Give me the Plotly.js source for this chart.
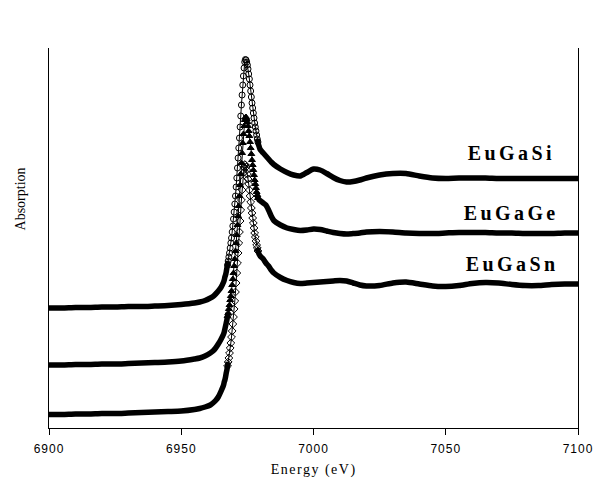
<!DOCTYPE html>
<html>
<head>
<meta charset="utf-8">
<script src="https://cdn.plot.ly/plotly-3.0.1.min.js"></script>
<style>
  html, body { margin: 0; padding: 0; background: #fff; }
  #chart { width: 594px; height: 480px; }
  .annotation[data-index="0"] text, .annotation[data-index="1"] text, .annotation[data-index="2"] text { letter-spacing: 3.4px; }
  .annotation[data-index="3"] text { letter-spacing: 1.5px; }
  .xtick text { letter-spacing: 1px; }
</style>
</head>
<body>
<div id="chart"></div>
<script>
// Energy (eV)
const energy = [6900,6905,6910,6915,6920,6925,6930,6935,6940,6945,6950,6955,6957,6959,6961,6962,6963,6964,6965,
6966,6966.25,6966.5,6966.75,6967,6967.25,6967.5,6967.75,6968,6968.25,6968.5,6968.75,6969,6969.25,6969.5,6969.75,6970,6970.25,6970.5,6970.75,6971,6971.25,6971.5,6971.75,6972,6972.25,6972.5,6972.75,6973,6973.25,6973.5,6973.75,6974,6974.25,6974.5,6974.75,6975,6975.25,6975.5,6975.75,6976,6976.25,6976.5,6976.75,6977,6977.25,6977.5,6977.75,6978,6978.25,6978.5,6978.75,6979,6979.25,6979.5,6979.75,6980,
6981,6982,6983,6984,6985,6987.5,6990,6992.5,6995,6997.5,7000,7002.5,7005,7007.5,7010,7012.5,7015,7017.5,7020,7025,7030,7035,7040,7045,7050,7055,7060,7065,7070,7075,7080,7085,7090,7095,7100];

// Absorption (arbitrary units, vertically offset)
const absEuGaSi = [120,120,120.5,120.5,121,121,121.5,121.5,122,122.5,123.5,125,126,127.5,130,131.5,134,137,140.5,
146,148,151,153,156,160,163,167,171,175,180,185,190,196,202,209,216,224,232,241,250,260,270,280,290,301,312,323,333,343,352,360,366,368.5,368,366,363,359,354,349,343,337,331,325,320,315,310,305,301,297,293,289,286,283,281,279,278,
275,272,269,266,263.5,259,255.5,253,252,255.5,259,258,254.5,250.5,247.5,246,246.5,248,250,253,254.5,254.5,252,250,249.5,250,250,250,249.5,249.5,249.5,249.5,249.5,249.5,249.5];

const absEuGaGe = [63,63,63.5,63.5,64,64,64.5,65,65.5,66,67,69,70,72,75,77,80,84,88.5,
94,96,99,102,105,108,112,115,119,123,128,132,137,143,149,155,162,169,177,185,193,203,212,222,232,243,254,265,275,285,294,302,308,310.5,311,309,306,302,297,292,286,280,274,268,263,258,253,248,244,240,236,233,230,229,228,227.5,227,
225,223,218,212,207.5,203,200,198.5,197.5,198,199,198.5,197,195.5,194.5,194,194.5,195,196,196.5,196,195,194.5,194.5,195,195.5,195.5,195.5,195,195,194.5,194.5,194.5,195,195];

const absEuGaSn = [13.5,13.5,14,14,14.5,14.5,15,15.5,16,16.5,17,18.5,19.5,21,23,25,27.5,31,36.5,
43,46,48,51,55,58,62,66,70,75,80,85,91,97,104,111,119,127,136,145,155,165,175,185,196,207,218,228,238,247,255,261,263.5,263,261,258,254,249,244,238,232,226,220,215,210,205,200,195,191,187,183,180,177,175,173.5,172.5,171.5,
169,165,162,158,155,150.5,147.5,145.5,144.5,145,145.5,146,146.5,147,147.5,147,145,143,142,142.5,145,146,144,142,141.5,142.5,144.5,145.5,145,143.5,142.5,142.5,143.5,144,144];

const seriesNames = ['EuGaSi', 'EuGaGe', 'EuGaSn'];
const seriesValues = [absEuGaSi, absEuGaGe, absEuGaSn];
const seriesSymbols = ['circle-open', 'triangle-up', 'diamond-open'];
const labelX = [7075, 7075, 7075];
const labelY = [275, 215, 164];
const tickVals = [6900, 6950, 7000, 7050, 7100];
const tickText = ['6900', '6950', '7000', '7050', '7100'];

// sparse-marker window on the steep edge
const edgeLo = 6967.5, edgeHi = 6979;

const traces = [];
seriesValues.forEach((vals, i) => {
  const thickY = vals.map((v, k) => (energy[k] <= edgeLo + 0.25 || energy[k] >= edgeHi - 0.25) ? v : null);
  traces.push({
    x: energy, y: thickY, type: 'scatter', mode: 'lines',
    line: {color: '#000', width: 5.5, shape: 'spline', smoothing: 0.6},
    connectgaps: false, hoverinfo: 'skip', showlegend: false, cliponaxis: false
  });
  const ex = [], ey = [];
  energy.forEach((e, k) => { if (e >= edgeLo && e <= edgeHi) { ex.push(e); ey.push(vals[k]); } });
  traces.push({
    x: ex, y: ey, type: 'scatter', mode: 'lines+markers', name: seriesNames[i],
    line: {color: '#000', width: 1},
    marker: {symbol: seriesSymbols[i], size: 6, color: '#000', line: {color: '#000', width: 1}},
    showlegend: false, cliponaxis: false
  });
});

const annotations = seriesNames.map((n, i) => ({
  x: labelX[i], y: labelY[i], xref: 'x', yref: 'y', text: n, showarrow: false,
  xanchor: 'center', yanchor: 'middle',
  font: {family: 'Liberation Serif, Times New Roman, serif', size: 20, color: '#000', weight: 'bold'}
}));
annotations.push({
  x: 0.5, y: -0.11, xref: 'paper', yref: 'paper', text: 'Energy (eV)', showarrow: false,
  xanchor: 'center', yanchor: 'middle',
  font: {family: 'Liberation Serif, Times New Roman, serif', size: 14, color: '#000'}
});
annotations.push({
  x: -0.053, y: 0.604, xref: 'paper', yref: 'paper', text: 'Absorption', showarrow: false,
  textangle: -90, xanchor: 'center', yanchor: 'middle',
  font: {family: 'Liberation Serif, Times New Roman, serif', size: 14, color: '#000'}
});

const layout = {
  width: 594, height: 480,
  margin: {l: 49, r: 16, t: 48, b: 52},
  paper_bgcolor: '#fff', plot_bgcolor: '#fff',
  showlegend: false,
  xaxis: {
    range: [6900, 7100], tickmode: 'array', tickvals: tickVals, ticktext: tickText,
    ticks: 'outside', ticklen: 6, tickwidth: 1, tickcolor: '#000', ticklabelstandoff: 4,
    showline: true, linecolor: '#000', linewidth: 1, mirror: false,
    showgrid: false, zeroline: false,
    tickfont: {family: 'Liberation Sans, Arial, sans-serif', size: 12, color: '#000'}
  },
  yaxis: {
    range: [0, 380], showticklabels: false, ticks: '',
    showline: true, linecolor: '#000', linewidth: 1, mirror: true,
    showgrid: false, zeroline: false
  },
  annotations: annotations
};

Plotly.newPlot('chart', traces, layout, {displayModeBar: false, staticPlot: true});
</script>
</body>
</html>
